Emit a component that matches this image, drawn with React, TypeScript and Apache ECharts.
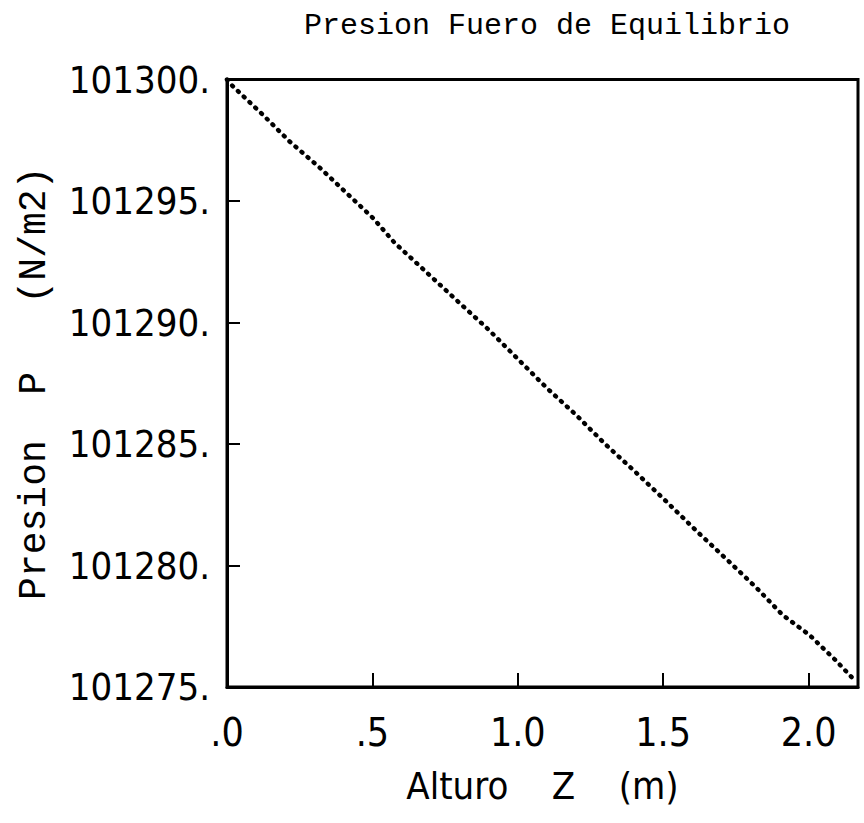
import React, { useEffect, useRef } from "react";
import * as echarts from "echarts";

const titleText = "Presion Fuero de Equilibrio";
const xName = "Alturo    Z    (m)";
const yName = "Presion  P   (N/m2)";

const xTicks = [0, 0.5, 1.0, 1.5, 2.0];
const yMin = 101275;
const yMax = 101300;
const yStep = 5;

// Altura Z (m)
const zVals = [0, 0.016, 0.124, 0.216, 0.32, 0.411, 0.502, 0.577, 0.674, 0.8, 0.9, 1.0, 1.1, 1.2, 1.3, 1.4, 1.511, 1.625, 1.717, 1.825, 1.911, 2.003, 2.092, 2.151];
// Presion P (N/m2)
const pVals = [101300, 101299.77, 101298.54, 101297.44, 101296.36, 101295.33, 101294.3, 101293.27, 101292.2, 101290.8, 101289.7, 101288.5, 101287.3, 101286.2, 101285.0, 101283.9, 101282.63, 101281.3, 101280.27, 101279.03, 101277.96, 101277.14, 101276.11, 101275.37];

const NARROW = "'Liberation Sans Narrow', 'DejaVu Sans Condensed', 'Liberation Sans', sans-serif";
const MONO = "'Liberation Mono', 'DejaVu Sans Mono', monospace";

export default function App() {
  const ref = useRef<HTMLDivElement>(null);
  useEffect(() => {
    if (!ref.current) return;
    const chart = echarts.init(ref.current, null, { renderer: "svg" });
    const data = zVals.map((z, i) => [z, pVals[i]]);
    chart.setOption({
      animation: false,
      backgroundColor: "#ffffff",
      title: {
        text: titleText,
        left: 299,
        top: 6,
        textStyle: { fontFamily: MONO, fontSize: 30, fontWeight: "normal", color: "#000" },
      },
      grid: {
        left: 227,
        right: 6,
        top: 79.5,
        bottom: 136,
        show: true,
        borderColor: "#000",
        borderWidth: 3,
        backgroundColor: "transparent",
      },
      xAxis: {
        type: "value",
        min: 0,
        max: 2.17,
        name: xName,
        nameLocation: "middle",
        nameGap: 80,
        nameTextStyle: { fontFamily: NARROW, fontSize: 38, color: "#000" },
        axisLine: { show: true, lineStyle: { color: "#000", width: 3 } },
        axisTick: { show: true, inside: true, length: 14, customValues: xTicks, lineStyle: { color: "#000", width: 2 } },
        axisLabel: {
          customValues: xTicks,
          margin: 26,
          fontFamily: NARROW,
          fontSize: 39,
          color: "#000",
          formatter: (v: number) => v.toFixed(1).replace(/^0/, ""),
        },
        splitLine: { show: false },
      },
      yAxis: {
        type: "value",
        min: yMin,
        max: yMax,
        interval: yStep,
        name: yName,
        nameLocation: "middle",
        nameGap: 174,
        nameTextStyle: { fontFamily: MONO, fontSize: 38, color: "#000" },
        axisLine: { show: true, lineStyle: { color: "#000", width: 3 } },
        axisTick: { show: true, inside: true, length: 13, lineStyle: { color: "#000", width: 2 } },
        axisLabel: {
          margin: 17,
          fontFamily: NARROW,
          fontSize: 38,
          color: "#000",
          formatter: (v: number) => `${Math.round(v)}.`,
        },
        splitLine: { show: false },
      },
      series: [
        {
          type: "line",
          data,
          showSymbol: false,
          smooth: false,
          lineStyle: { color: "#000", width: 4.5, type: [1, 7], cap: "round" },
        },
      ],
    });
    return () => chart.dispose();
  }, []);
  return (
    <div
      ref={ref}
      style={{ position: "absolute", left: 0, top: 0, width: 864, height: 823, background: "#fff" }}
    />
  );
}
